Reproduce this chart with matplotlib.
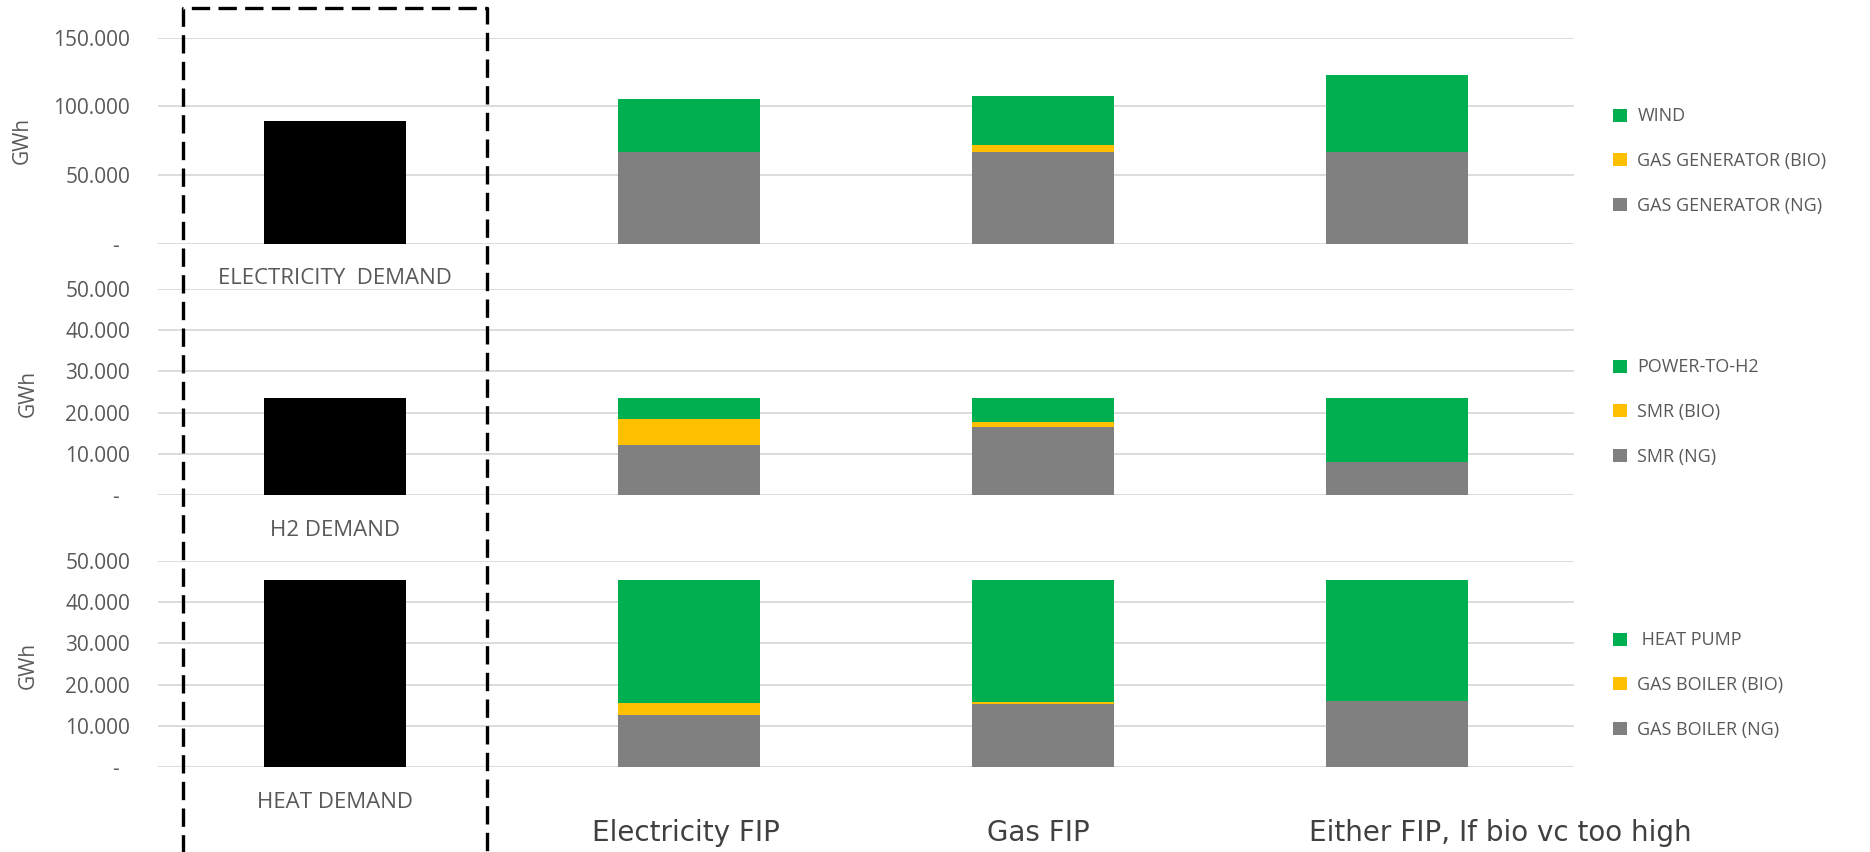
import matplotlib
matplotlib.use("Agg")
import matplotlib.pyplot as plt
from matplotlib.lines import Line2D
from matplotlib.patches import Patch
from matplotlib.ticker import FuncFormatter

# scenario names shown along the bottom
scenarios = ['Electricity FIP', 'Gas FIP', 'Either FIP, If bio vc too high']

# electricity (GWh)
elec_demand = 89500
elec_ng = [66700, 66700, 66700]
elec_bio = [0, 5300, 0]
elec_wind = [38800, 35200, 55900]

# hydrogen (GWh)
h2_demand = 23600
h2_ng = [12200, 16600, 8000]
h2_bio = [6300, 1000, 0]
h2_p2h = [5100, 6000, 15600]

# heat (GWh)
heat_demand = 45500
heat_ng = [12600, 15400, 16000]
heat_bio = [3000, 300, 0]
heat_hp = [29900, 29800, 29500]

GREEN = '#00B050'
YELLOW = '#FFC000'
GREY = '#808080'
TXT = '#595959'
FONT = ['Open Sans', 'DejaVu Sans']

W, H = 1870, 852
fig = plt.figure(figsize=(W / 100, H / 100), dpi=100)
plt.rcParams['font.family'] = FONT


def fmt(v, pos):
    if v == 0:
        return '-  '
    return f"{v:,.0f}".replace(',', '.')


panels = [
    dict(y0=243.5, y1=37.7, ymax=150000, step=50000, label='ELECTRICITY  DEMAND',
         demand=elec_demand, stacks=[elec_ng, elec_bio, elec_wind],
         names=['GAS GENERATOR (NG)', 'GAS GENERATOR (BIO)', 'WIND'],
         leg_y=161, gwh_y=140, gwh_x=22),
    dict(y0=495, y1=289, ymax=50000, step=10000, label='H2 DEMAND',
         demand=h2_demand, stacks=[h2_ng, h2_bio, h2_p2h],
         names=['SMR (NG)', 'SMR (BIO)', 'POWER-TO-H2'],
         leg_y=412, gwh_y=393, gwh_x=28),
    dict(y0=767, y1=561, ymax=50000, step=10000, label='HEAT DEMAND',
         demand=heat_demand, stacks=[heat_ng, heat_bio, heat_hp],
         names=['GAS BOILER (NG)', 'GAS BOILER (BIO)', ' HEAT PUMP'],
         leg_y=685, gwh_y=665, gwh_x=28),
]

left, right = 158, 1574
bw = 0.40
xs = [1, 2, 3]

for p in panels:
    ax = fig.add_axes([left / W, 1 - p['y0'] / H, (right - left) / W, (p['y0'] - p['y1']) / H])
    ax.set_xlim(-0.5, 3.5)
    ax.set_ylim(0, p['ymax'])
    ax.set_yticks(range(0, p['ymax'] + 1, p['step']))
    ax.yaxis.set_major_formatter(FuncFormatter(fmt))
    ax.tick_params(axis='y', length=0, pad=20, labelsize=15, labelcolor=TXT)
    ax.set_xticks([])
    for s in ax.spines.values():
        s.set_visible(False)
    ax.grid(axis='y', color='#D9D9D9', linewidth=1.3)
    ax.set_axisbelow(True)

    ax.bar(0, p['demand'], width=bw, color='black', zorder=3)

    bottom = [0, 0, 0]
    handles = []
    for vals, col in zip(p['stacks'], [GREY, YELLOW, GREEN]):
        ax.bar(xs, vals, width=bw, bottom=bottom, color=col, zorder=3)
        bottom = [b + v for b, v in zip(bottom, vals)]
    for name, col in zip(p['names'], [GREY, YELLOW, GREEN]):
        handles.append(Patch(facecolor=col, label=name))

    ax.annotate(p['label'], xy=(0, 0), xycoords='data', xytext=(0, -35),
                textcoords='offset pixels', ha='center', va='center',
                fontsize=16, color=TXT)

    ax.legend(handles=handles[::-1], loc='center left',
              bbox_to_anchor=(1613 / W, 1 - p['leg_y'] / H), bbox_transform=fig.transFigure,
              frameon=False, fontsize=13, labelcolor=TXT, handlelength=0.75,
              handleheight=0.75, handletextpad=0.6, labelspacing=1.47, borderpad=0,
              borderaxespad=0)

    fig.text(p['gwh_x'] / W, 1 - p['gwh_y'] / H, 'GWh', rotation=90, ha='center',
             va='center', fontsize=15, color=TXT)

# scenario names under the bottom panel
for name, xl in zip(scenarios, [592, 987, 1309]):
    fig.text(xl / W, 1 - 841 / H, name, ha='left', va='baseline', fontsize=20,
             color='#404040', family=['DejaVu Sans'])

# dashed frame around the demand column
bx = [183 / W, 183 / W, 487 / W, 487 / W]
by = [-0.02, 1 - 7.7 / H, 1 - 7.7 / H, -0.02]
fig.add_artist(Line2D(bx, by, transform=fig.transFigure, color='black',
                      linewidth=2.4, dashes=(5.5, 2.5)))

fig.savefig('out.png', dpi=100)
